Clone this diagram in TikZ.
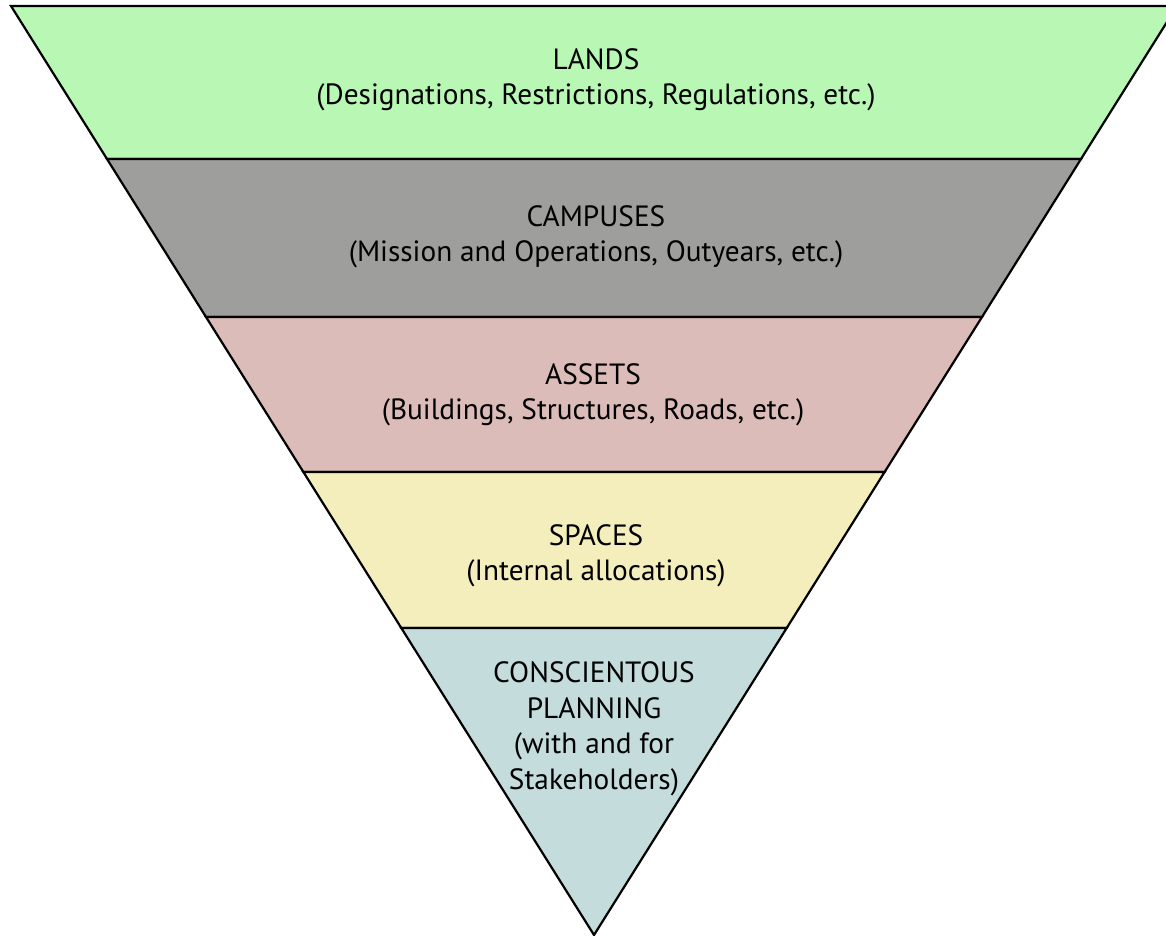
\documentclass[tikz,border=0pt]{standalone}
\usepackage{fontspec}
\setmainfont{PT Sans}
\definecolor{landsc}{RGB}{185,248,180}
\definecolor{campc}{RGB}{158,158,156}
\definecolor{assetc}{RGB}{220,188,185}
\definecolor{spacec}{RGB}{243,238,187}
\definecolor{planc}{RGB}{196,220,220}
\tikzset{
  band/.style={draw=black, line width=2.2pt, line join=miter},
  label/.style={align=center, font=\fontsize{29.3}{35.5}\selectfont, inner sep=0pt}
}
\begin{document}
\begin{tikzpicture}[x=1pt,y=-1pt]
\useasboundingbox (0,0) rectangle (1166,936);
\clip (0,0) rectangle (1166,936);
\coordinate (tl) at (11,6);
\coordinate (tr) at (1177,6);
\coordinate (l1) at (107,159);
\coordinate (r1) at (1081,159);
\coordinate (l2) at (206,317);
\coordinate (r2) at (982,317);
\coordinate (l3) at (303.4,472);
\coordinate (r3) at (884.6,472);
\coordinate (l4) at (401.3,628);
\coordinate (r4) at (786.7,628);
\coordinate (apex) at (594,935);
\filldraw[band, fill=landsc] (tl) -- (tr) -- (r1) -- (l1) -- cycle;
\filldraw[band, fill=campc] (l1) -- (r1) -- (r2) -- (l2) -- cycle;
\filldraw[band, fill=assetc] (l2) -- (r2) -- (r3) -- (l3) -- cycle;
\filldraw[band, fill=spacec] (l3) -- (r3) -- (r4) -- (l4) -- cycle;
\filldraw[band, fill=planc] (l4) -- (r4) -- (apex) -- cycle;
\node[label] (lands) at (596,80) {LANDS\\(Designations, Restrictions, Regulations, etc.)};
\node[label] (camp) at (596,237) {CAMPUSES\\(Mission and Operations, Outyears, etc.)};
\node[label] (assets) at (593,395) {ASSETS\\(Buildings, Structures, Roads, etc.)};
\node[label] (spaces) at (596,556) {SPACES\\(Internal allocations)};
\node[label] (plan) at (594,729) {CONSCIENTOUS\\PLANNING\\(with and for\\Stakeholders)};
\end{tikzpicture}
\end{document}
